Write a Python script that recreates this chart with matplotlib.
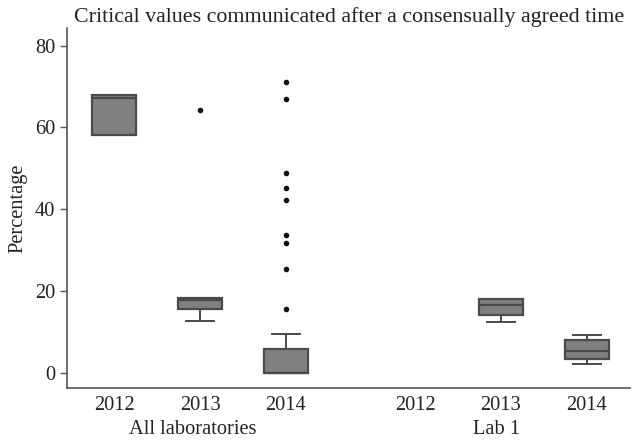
import matplotlib
matplotlib.use("Agg")
import matplotlib.pyplot as plt

plt.rcParams['font.family'] = ['Liberation Serif', 'DejaVu Serif']

years = ["2012", "2013", "2014", "2012", "2013", "2014"]
groups = ["All laboratories", "Lab 1"]
# box statistics (percentage)
whislo = [58.2, 12.5, 0.0, None, 12.4, 2.1]
q1 = [58.2, 15.6, 0.0, None, 14.0, 3.3]
med = [67.2, 17.7, 0.0, None, 16.5, 5.3]
q3 = [67.9, 18.3, 5.8, None, 18.1, 8.0]
whishi = [67.9, 18.3, 9.4, None, 18.1, 9.3]
fliers = [[], [64.2], [71.1, 66.9, 48.9, 45.1, 42.2, 33.7, 31.8, 25.3, 15.5], [], [], []]

positions = [0, 1, 2, 3.5, 4.5, 5.5]

fig = plt.figure(figsize=(6.35, 4.4), dpi=100)
ax = fig.add_axes([0.1055, 0.118, 0.8865, 0.818])

stats = []
pos_used = []
for i in range(len(years)):
    if q1[i] is None:
        continue
    stats.append(dict(whislo=whislo[i], q1=q1[i], med=med[i], q3=q3[i],
                      whishi=whishi[i], fliers=fliers[i]))
    pos_used.append(positions[i])

edge = '#4a4a4a'
ax.bxp(stats, positions=pos_used, widths=0.51, patch_artist=True,
       boxprops=dict(facecolor='#808080', edgecolor=edge, linewidth=1.6),
       medianprops=dict(color=edge, linewidth=1.6),
       whiskerprops=dict(color=edge, linewidth=1.4),
       capprops=dict(color=edge, linewidth=1.4),
       capwidths=0.33,
       flierprops=dict(marker='o', markersize=3.0, markerfacecolor='#111111',
                       markeredgecolor='#111111'))

ax.set_xlim(-0.547, 6.0)
ax.set_ylim(-3.8, 84.3)
ax.set_yticks([0, 20, 40, 60, 80])
ax.set_xticks(positions)
ax.set_xticklabels(years)
ax.tick_params(axis='x', length=0, labelsize=14.7, pad=6, colors='#222222')
ax.tick_params(axis='y', length=5, width=1, labelsize=14.7, colors='#222222', color='#555555')
for s in ['top', 'right']:
    ax.spines[s].set_visible(False)
for s in ['left', 'bottom']:
    ax.spines[s].set_color('#555555')
    ax.spines[s].set_linewidth(1.2)

ax.set_ylabel("Percentage", fontsize=14.7, color='#222222', labelpad=5)
ax.text(0.91, -0.115, groups[0], transform=ax.get_xaxis_transform(),
        ha='center', va='center', fontsize=14.7, color='#222222')
ax.text(4.45, -0.115, groups[1], transform=ax.get_xaxis_transform(),
        ha='center', va='center', fontsize=14.7, color='#222222')
fig.text(0.55, 0.962, "Critical values communicated after a consensually agreed time",
         ha='center', va='center', fontsize=15.8, color='#222222')

fig.savefig("out.png", dpi=100)
